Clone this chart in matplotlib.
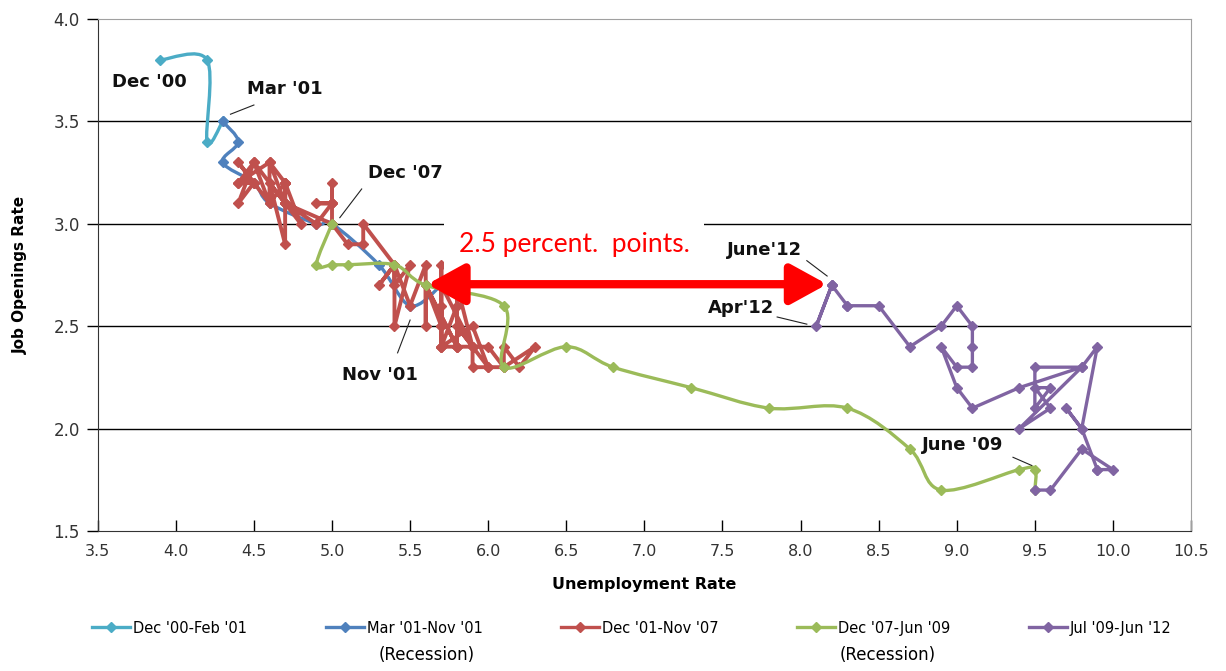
import numpy as np
import matplotlib
matplotlib.use('Agg')
import matplotlib.pyplot as plt
from matplotlib.path import Path
from matplotlib.patches import PathPatch
from matplotlib.lines import Line2D

# unemployment rate (x) and job openings rate (y), monthly
# Dec '00 - Mar '01
cyan_ur = [3.9, 4.2, 4.2, 4.3]
cyan_jor = [3.8, 3.8, 3.4, 3.5]

# Mar '01 - Dec '01 (recession)
blue_ur = [4.3, 4.4, 4.3, 4.5, 4.6, 4.9, 5.0, 5.3, 5.5, 5.7]
blue_jor = [3.5, 3.4, 3.3, 3.2, 3.1, 3.0, 3.0, 2.8, 2.6, 2.7]

# Dec '01 - Dec '07
red_ur = [5.7,
          5.7, 5.7, 5.7, 5.9, 5.8, 5.8, 5.8, 5.7, 5.7, 5.7, 5.9, 6.0,
          5.8, 5.9, 5.9, 6.0, 6.1, 6.3, 6.2, 6.1, 6.1, 6.0, 5.8, 5.7,
          5.7, 5.6, 5.8, 5.6, 5.6, 5.6, 5.5, 5.4, 5.4, 5.5, 5.4, 5.4,
          5.3, 5.4, 5.2, 5.2, 5.1, 5.0, 5.0, 4.9, 5.0, 5.0, 5.0, 4.9,
          4.7, 4.8, 4.7, 4.7, 4.6, 4.6, 4.7, 4.7, 4.5, 4.4, 4.5, 4.4,
          4.6, 4.5, 4.4, 4.5, 4.4, 4.6, 4.7, 4.6, 4.7, 4.7, 4.7,
          5.0]
red_jor = [2.7,
           2.8, 2.5, 2.7, 2.4, 2.7, 2.4, 2.6, 2.4, 2.6, 2.4, 2.5, 2.3,
           2.5, 2.4, 2.3, 2.3, 2.3, 2.4, 2.3, 2.4, 2.3, 2.4, 2.4, 2.4,
           2.5, 2.7, 2.4, 2.7, 2.5, 2.8, 2.6, 2.8, 2.5, 2.8, 2.7, 2.8,
           2.7, 2.8, 3.0, 2.9, 2.9, 3.0, 3.1, 3.1, 3.1, 3.2, 3.1, 3.0,
           3.1, 3.0, 3.2, 3.2, 3.1, 3.3, 3.2, 3.1, 3.3, 3.2, 3.2, 3.3,
           3.1, 3.3, 3.1, 3.2, 3.2, 3.3, 3.1, 3.2, 2.9, 3.2, 3.1,
           3.0]

# Dec '07 - Jul '09 (recession)
green_ur = [5.0, 4.9, 5.0, 5.1, 5.4, 5.6, 6.1, 6.1, 6.5, 6.8, 7.3, 7.8,
            8.3, 8.7, 8.9, 9.4, 9.5, 9.5]
green_jor = [3.0, 2.8, 2.8, 2.8, 2.8, 2.7, 2.6, 2.3, 2.4, 2.3, 2.2, 2.1,
             2.1, 1.9, 1.7, 1.8, 1.8, 1.7]

# Jul '09 - Jun '12
purple_ur = [9.5, 9.6, 9.8, 10.0, 9.9, 9.9,
             9.8, 9.7, 9.8, 9.9, 9.8, 9.5, 9.5, 9.6, 9.5, 9.6, 9.4, 9.8,
             9.4, 9.1, 9.0, 8.9, 9.0, 9.1, 9.1, 9.1, 9.0, 8.9, 8.7, 8.5,
             8.3, 8.3, 8.2, 8.1, 8.2, 8.2]
purple_jor = [1.7, 1.7, 1.9, 1.8, 1.8, 1.8,
              2.0, 2.1, 2.0, 2.4, 2.3, 2.3, 2.1, 2.2, 2.2, 2.1, 2.0, 2.3,
              2.2, 2.1, 2.2, 2.4, 2.3, 2.3, 2.4, 2.5, 2.6, 2.5, 2.4, 2.6,
              2.6, 2.6, 2.7, 2.5, 2.7, 2.7]

legend_labels = ["Dec '00-Feb '01", "Mar '01-Nov '01", "Dec '01-Nov '07",
                 "Dec '07-Jun '09", "Jul '09-Jun '12"]
colors = ['#4bacc6', '#4f81bd', '#c0504d', '#9bbb59', '#8064a2']

x_ticks = np.arange(3.5, 10.51, 0.5)
y_ticks = np.arange(1.5, 4.01, 0.5)


def smooth_path(x, y):
    # excel-style smoothed line (catmull-rom as cubic bezier)
    pts = np.column_stack([x, y]).astype(float)
    n = len(pts)
    verts = [pts[0]]
    codes = [Path.MOVETO]
    for i in range(n - 1):
        p0 = pts[max(i - 1, 0)]
        p1 = pts[i]
        p2 = pts[i + 1]
        p3 = pts[min(i + 2, n - 1)]
        verts += [p1 + (p2 - p0) / 6, p2 - (p3 - p1) / 6, p2]
        codes += [Path.CURVE4] * 3
    return Path(verts, codes)


fig = plt.figure(figsize=(12.26, 6.71), dpi=100)
ax = fig.add_axes([0.0797, 0.2086, 0.8918, 0.7631])

series = [(cyan_ur, cyan_jor, True, 2.4),
          (blue_ur, blue_jor, True, 2.4),
          (red_ur, red_jor, False, 2.8),
          (green_ur, green_jor, True, 2.4),
          (purple_ur, purple_jor, False, 2.4)]

for (xs, ys, smooth, lw), c in zip(series, colors):
    if smooth:
        ax.add_patch(PathPatch(smooth_path(xs, ys), fc='none', ec=c, lw=lw,
                               capstyle='round', joinstyle='round', zorder=3))
        ax.plot(xs, ys, ls='none', marker='D', ms=5.5, color=c, zorder=3)
    else:
        ax.plot(xs, ys, color=c, lw=lw, marker='D', ms=5.5, zorder=3,
                solid_joinstyle='round')

ax.set_xlim(3.5, 10.5)
ax.set_ylim(1.5, 4.0)
ax.set_xticks(x_ticks)
ax.set_yticks(y_ticks)
ax.set_xticklabels([f'{v:.1f}' for v in x_ticks])
ax.set_yticklabels([f'{v:.1f}' for v in y_ticks])
ax.tick_params(axis='x', direction='in', length=8, width=1, pad=9,
               labelsize=11.5, labelcolor='#333333')
ax.tick_params(axis='y', direction='out', length=8, width=1, pad=5,
               labelsize=12, labelcolor='#333333')

for v in y_ticks[1:-1]:
    ax.axhline(v, color='black', lw=1, zorder=1)
ax.spines['top'].set_color('#a0a0a0')
ax.spines['right'].set_color('#a0a0a0')
ax.spines['left'].set_color('#333333')
ax.spines['bottom'].set_color('#333333')

ax.set_xlabel('Unemployment Rate', fontsize=11.5, fontweight='bold', labelpad=13)
ax.set_ylabel('Job Openings Rate', fontsize=11, fontweight='bold', labelpad=18)

# labels with leader lines
labels = [("Dec '00", 3.83, 3.69, None),
          ("Mar '01", 4.70, 3.66, (4.35, 3.535, 4.50, 3.58)),
          ("Dec '07", 5.47, 3.25, (5.05, 3.03, 5.19, 3.17)),
          ("Nov '01", 5.31, 2.26, (5.50, 2.53, 5.42, 2.37)),
          ("June'12", 7.77, 2.87, (8.04, 2.82, 8.17, 2.745)),
          ("Apr'12", 7.62, 2.59, (7.85, 2.545, 8.04, 2.51)),
          ("June '09", 9.04, 1.92, (9.36, 1.86, 9.48, 1.82))]
for txt, tx, ty, lead in labels:
    ax.text(tx, ty, txt, ha='center', va='center', fontsize=13,
            fontweight='bold', color='#111111', zorder=5)
    if lead:
        ax.plot([lead[0], lead[2]], [lead[1], lead[3]], color='#222222',
                lw=0.8, zorder=5)

ax.text(6.55, 2.90, '2.5 percent.  points.', ha='center', va='center',
        fontsize=19, color='red', family='Lato', zorder=6,
        bbox=dict(boxstyle='square,pad=0.55', fc='white', ec='none'))
ax.annotate('', xy=(8.17, 2.705), xytext=(5.61, 2.705),
            arrowprops=dict(arrowstyle='<|-|>,head_length=1.0,head_width=0.55',
                            color='red', lw=6, mutation_scale=22,
                            shrinkA=0, shrinkB=0), zorder=6)

handles = [Line2D([], [], color=c, lw=2.4, marker='D', ms=5.5) for c in colors]
fig.legend(handles, legend_labels, loc='center', ncol=5,
           bbox_to_anchor=(0.5155, 0.064), frameon=False, fontsize=10.5,
           handlelength=2.6, handletextpad=0.2, columnspacing=5.4)
fig.text(0.348, 0.024, '(Recession)', ha='center', va='center', fontsize=12)
fig.text(0.724, 0.024, '(Recession)', ha='center', va='center', fontsize=12)

fig.savefig('out.png', dpi=100)
